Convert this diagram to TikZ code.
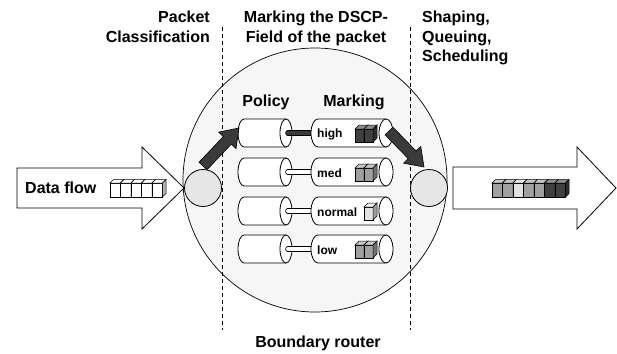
\documentclass[tikz,border=0pt]{standalone}
\usepackage{fontspec}
\setmainfont{Liberation Sans}
\usetikzlibrary{calc}
\definecolor{routerbg}{HTML}{F6F6F6}
\definecolor{portbg}{HTML}{E6E6E6}
\definecolor{pdark}{HTML}{404040}
\definecolor{pmid}{HTML}{A0A0A0}
\definecolor{plight}{HTML}{E2E2E2}
\definecolor{arrdark}{HTML}{3A3A3A}
\newcommand\pktbox[6]{% x, y (front bottom-left), w, h, d, colour
  \filldraw[pktline, fill=#6] (#1,#2) rectangle (#1+#3,#2-#4);
  \filldraw[pktline, fill=#6!60!white] (#1,#2-#4) -- (#1+#5,#2-#4-#5) -- (#1+#3+#5,#2-#4-#5) -- (#1+#3,#2-#4) -- cycle;
  \filldraw[pktline, fill=#6!70!black] (#1+#3,#2) -- (#1+#3,#2-#4) -- (#1+#3+#5,#2-#4-#5) -- (#1+#3+#5,#2-#5) -- cycle;}
\newcommand\cylbox[5]{% name, left x, right ellipse centre x, y, x radius
  \filldraw[cylst] (#3,#4-14) -- (#2+#5,#4-14) arc[start angle=-90,end angle=-270,x radius=#5,y radius=14] -- (#3,#4+14) -- cycle;
  \filldraw[cylst] (#3,#4) ellipse[x radius=#5, y radius=14];
  \coordinate (#1-l) at (#2,#4);
  \coordinate (#1-r) at (#3,#4);}
\newcommand\darrow[2]{%
  \coordinate (tmpb) at ($(#2)!17pt!(#1)$);
  \filldraw[darkarr] ($(#1)!5.5pt!90:(#2)$) -- ($(tmpb)!5.5pt!90:(#2)$) -- ($(tmpb)!12pt!90:(#2)$) -- (#2) -- ($(tmpb)!12pt!-90:(#2)$) -- ($(tmpb)!5.5pt!-90:(#2)$) -- ($(#1)!5.5pt!-90:(#2)$) -- cycle;}
\begin{document}
\begin{tikzpicture}[x=1pt,y=-1pt,
  lbl/.style={font=\fontsize{16}{19.5}\selectfont\bfseries, inner sep=0pt},
  small/.style={font=\fontsize{12}{14}\selectfont\bfseries, inner sep=0pt, anchor=west},
  pktline/.style={draw=black, line width=0.5pt},
  cylst/.style={draw=black, fill=white, line width=0.8pt},
  tube/.style={draw=black, line width=0.8pt, double=white, double distance=4pt, line cap=round},
  darktube/.style={tube, double=arrdark},
  darkarr/.style={draw=black, fill=arrdark, line width=0.6pt, line join=miter},
  bigarr/.style={draw=black, fill=white, line width=0.8pt},
  sep/.style={draw=black, line width=0.8pt, dash pattern=on 4pt off 3pt},
  port/.style={circle, draw=black, fill=portbg, line width=0.8pt, minimum size=37pt, inner sep=0pt}]
\useasboundingbox (0,0) rectangle (617,353);

% router
\node[circle, draw=black, fill=routerbg, line width=0.7pt, minimum size=264pt, inner sep=0pt] (router) at (315,180) {};

% separators
\coordinate (s1t) at (222,27); \coordinate (s1b) at (222,330);
\coordinate (s2t) at (410,27); \coordinate (s2b) at (410,330);
\draw[sep] (s1t) -- (s1b);
\draw[sep] (s2t) -- (s2b);

% big arrows
\filldraw[bigarr] (17,168) -- (142,168) -- (142,147) -- (184,188) -- (142,229) -- (142,208) -- (17,208) -- cycle;
\filldraw[bigarr] (453,167) -- (577,167) -- (577,147) -- (616,188) -- (577,229) -- (577,209) -- (453,209) -- cycle;
\node[lbl, anchor=west] (df) at (25,188) {Data flow};
\foreach \i in {0,...,4} {\pktbox{110+10.5*\i}{197}{10.5}{14}{3.5}{white}}
\foreach \i/\c in {0/pmid,1/pmid,2/plight,3/pmid,4/pmid,5/pdark,6/pdark} {\pktbox{492+10.5*\i}{197}{10.5}{14}{3.5}{\c}}

% ports
\node[port] (inport) at (203,188) {};
\node[port] (outport) at (429,188) {};

% queues
\foreach \n/\y/\t/\s in {1/133/high/darktube, 2/172/med/tube, 3/211/normal/tube, 4/249/low/tube} {
  \cylbox{pol\n}{238}{286}{\y}{6}
  \coordinate (mrk\n-l) at (311,\y);
  \draw[\s] ($(pol\n-r)+(2,0)$) -- ($(mrk\n-l)+(2,0)$);
  \cylbox{mrk\n}{311}{386}{\y}{7}
  \node[small] (t\n) at (317,\y+1) {\t};
}
\pktbox{355}{142}{9}{13}{4}{pdark}
\pktbox{364}{142}{9}{13}{4}{pdark}
\pktbox{355}{181}{9}{13}{4}{pmid}
\pktbox{364}{181}{9}{13}{4}{pmid}
\pktbox{364}{220}{9}{13}{4}{plight}
\pktbox{355}{258}{9}{13}{4}{pmid}
\pktbox{364}{258}{9}{13}{4}{pmid}

% dark arrows
\coordinate (a1s) at (203,166); \coordinate (a1t) at (239,128);
\coordinate (a2s) at (389,131); \coordinate (a2t) at (424,167);
\darrow{a1s}{a1t}
\darrow{a2s}{a2t}

% labels
\node[lbl] (pol) at (266,102) {Policy};
\node[lbl] (mrk) at (354,102) {Marking};
\node[lbl, anchor=north east, align=right] (l1) at (210,11) {Packet\\Classification};
\node[lbl, anchor=north, align=center] (l2) at (316,11) {Marking the DSCP-\\Field of the packet};
\node[lbl, anchor=north west, align=left] (l3) at (422,11) {Shaping,\\Queuing,\\Scheduling};
\node[lbl] (br) at (318,343) {Boundary router};
\end{tikzpicture}
\end{document}
